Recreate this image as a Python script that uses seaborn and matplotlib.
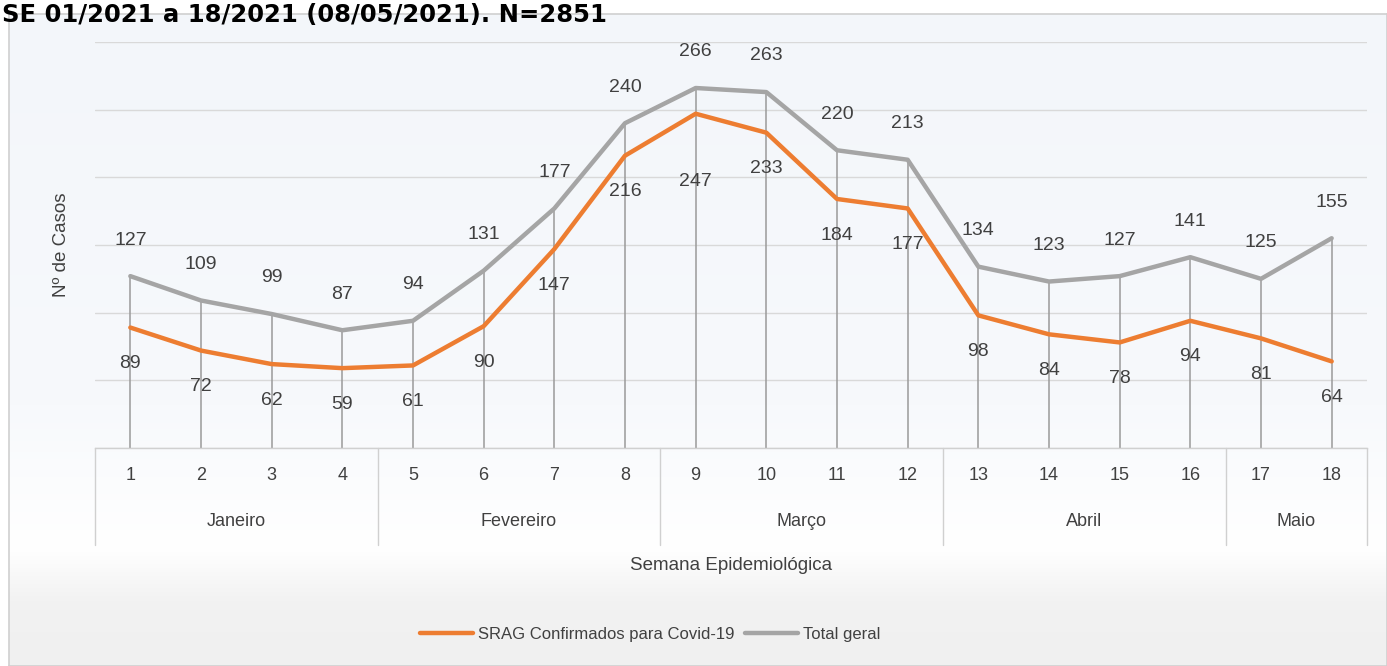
import numpy as np
import pandas as pd
import matplotlib
matplotlib.use("Agg")
import matplotlib.pyplot as plt
import matplotlib.transforms as mtransforms
from matplotlib.colors import LinearSegmentedColormap
from matplotlib.lines import Line2D
import seaborn as sns

# ---------------- data ----------------
weeks = [str(i) for i in range(1, 19)]
months = ["Janeiro", "Fevereiro", "Março", "Abril", "Maio"]
weeks_per_month = [4, 4, 4, 4, 2]
covid = [89, 72, 62, 59, 61, 90, 147, 216, 247, 233, 184, 177, 98, 84, 78, 94, 81, 64]
total = [127, 109, 99, 87, 94, 131, 177, 240, 266, 263, 220, 213, 134, 123, 127, 141, 125, 155]
series_names = ["SRAG Confirmados para Covid-19", "Total geral"]
title = "SE 01/2021 a 18/2021 (08/05/2021). N=2851"
xlabel = "Semana Epidemiológica"
ylabel = "Nº de Casos"

# ---------------- style ----------------
W, H = 1387, 666
DPI = 100
ORANGE = "#ED7D31"
GRAY = "#A5A5A5"
TXT = "#404040"
FONT = ["Liberation Sans", "DejaVu Sans"]

sns.set_theme(style="white")
plt.rcParams["font.family"] = FONT

fig = plt.figure(figsize=(W / DPI, H / DPI), dpi=DPI)
fig.patch.set_facecolor("white")

def fx(px):
    return px / W

def fy(py):
    return 1 - py / H

# background panel with gradient
bg = fig.add_axes([fx(9), fy(H), fx(W - 9), fy(14) - fy(H)], zorder=0)
cmap = LinearSegmentedColormap.from_list(
    "bg", [(0.0, "#f3f6fa"), (0.6, "#f7f9fc"), (0.82, "#ffffff"), (0.9, "#f2f2f2"), (1.0, "#f0f0f0")])
grad = np.linspace(0, 1, 256).reshape(-1, 1)
bg.imshow(grad, aspect="auto", cmap=cmap, extent=[0, 1, 0, 1], origin="upper")
bg.set_xticks([])
bg.set_yticks([])
for s in bg.spines.values():
    s.set_color("#d0d0d0")
    s.set_linewidth(1.2)

# title (kept fully visible at the top edge)
fig.text(fx(2), fy(22), title, fontsize=17.5, fontweight="bold", color="black",
         ha="left", va="baseline", family=["DejaVu Sans"], zorder=5)

# main axes
left_px, right_px, top_px, base_px = 95, 1367, 42, 448
ax = fig.add_axes([fx(left_px), fy(base_px), fx(right_px - left_px), fy(top_px) - fy(base_px)], zorder=2)
ax.patch.set_alpha(0)

x = np.arange(len(weeks))
df = pd.DataFrame({
    "x": np.concatenate([x, x]),
    "value": covid + total,
    "series": [series_names[0]] * len(x) + [series_names[1]] * len(x),
})

ax.set_xlim(-0.5, len(weeks) - 0.5)
ax.set_ylim(0, 300)
ax.set_yticks(np.arange(0, 301, 50))
ax.yaxis.grid(True, color="#d9d9d9", linewidth=1.0)
ax.xaxis.grid(False)
ax.set_yticklabels([])
ax.tick_params(axis="y", length=0)
for s in ["top", "right", "left"]:
    ax.spines[s].set_visible(False)
ax.spines["bottom"].set_color("#d0d0d0")
ax.spines["bottom"].set_linewidth(1.0)

# drop lines
ax.vlines(x, 0, np.maximum(covid, total), color="#9a9a9a", linewidth=1.1, zorder=1)

sns.lineplot(data=df, x="x", y="value", hue="series", palette=[ORANGE, GRAY],
             linewidth=3.2, legend=False, ax=ax, zorder=3)
for ln in ax.get_lines():
    ln.set_solid_capstyle("round")
    ln.set_solid_joinstyle("round")

# data labels
for i, (c, t) in enumerate(zip(covid, total)):
    ax.annotate(str(t), (i, t), xytext=(0, 26), textcoords="offset points",
                ha="center", va="center", fontsize=14, color=TXT, zorder=4)
    dy = -49 if i == 8 else -26
    ax.annotate(str(c), (i, c), xytext=(0, dy), textcoords="offset points",
                ha="center", va="center", fontsize=14, color=TXT, zorder=4)

# x tick labels (weeks)
ax.set_xticks(x)
ax.set_xticklabels(weeks, fontsize=13, color=TXT)
ax.tick_params(axis="x", length=0, pad=14)
ax.set_xlabel("")
ax.set_ylabel("")

# month groups
trans = mtransforms.blended_transform_factory(ax.transData, fig.transFigure)
bounds = np.concatenate([[0], np.cumsum(weeks_per_month)]) - 0.5
for b in bounds:
    ax.add_line(Line2D([b, b], [fy(base_px), fy(545)], transform=trans, color="#d0d0d0",
                       linewidth=1.0, clip_on=False))
for m, a, b in zip(months, bounds[:-1], bounds[1:]):
    ax.text((a + b) / 2, fy(522), m, transform=trans, ha="center", va="center",
            fontsize=13, color=TXT)

# axis titles
fig.text(fx(731), fy(566), xlabel, ha="center", va="center", fontsize=13.5, color=TXT)
fig.text(fx(62), fy(245), ylabel, ha="center", va="center", rotation=90, fontsize=13.5, color=TXT)

# legend
handles = [Line2D([], [], color=ORANGE, linewidth=3.2), Line2D([], [], color=GRAY, linewidth=3.2)]
fig.legend(handles, series_names, loc="center", bbox_to_anchor=(fx(650), fy(634)), ncol=2,
           frameon=False, fontsize=12, handlelength=3.2, handletextpad=0.3, columnspacing=0.6,
           labelcolor=TXT)

fig.savefig("out.png", dpi=DPI)
